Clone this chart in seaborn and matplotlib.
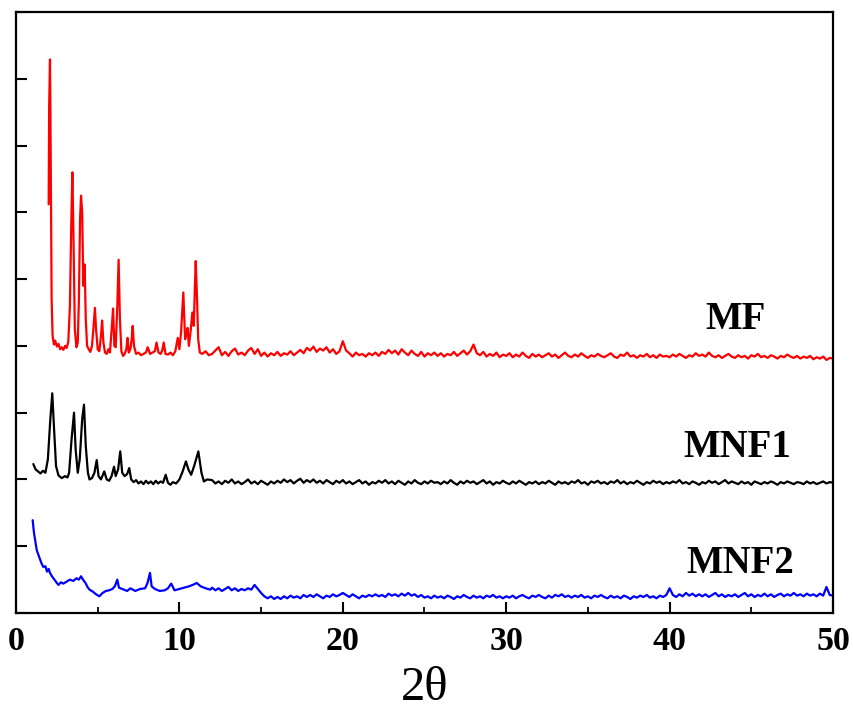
import numpy as np
import pandas as pd
import matplotlib
matplotlib.use("Agg")
import matplotlib.pyplot as plt
import seaborn as sns
from matplotlib.ticker import MultipleLocator

# ---------------- data ----------------
SERIES = ["MF", "MNF1", "MNF2"]
COLORS = {"MF": "#ff0000", "MNF1": "#000000", "MNF2": "#0000ff"}
X_TICKS = [0, 10, 20, 30, 40, 50]

# low-angle region, (2theta, intensity) pairs
MF_HEAD = [
    (2.00, 6.12), (2.03, 7.60), (2.08, 8.29), (2.11, 7.40), (2.14, 6.20), (2.18, 4.70),
    (2.24, 4.15), (2.32, 4.02), (2.40, 4.08), (2.50, 3.99), (2.60, 4.03), (2.70, 3.95),
    (2.80, 3.98), (2.90, 3.94), (3.00, 4.00), (3.10, 3.97), (3.20, 4.06), (3.30, 4.60),
    (3.38, 5.80), (3.45, 6.60), (3.52, 5.60), (3.60, 4.25), (3.70, 3.98), (3.78, 4.05),
    (3.85, 4.70), (3.92, 5.90), (3.98, 6.25), (4.05, 6.00), (4.12, 4.90), (4.20, 5.22),
    (4.27, 4.40), (4.35, 4.00), (4.45, 3.95), (4.55, 3.91), (4.65, 4.00), (4.75, 4.30),
    (4.83, 4.57), (4.90, 4.25), (5.00, 3.95), (5.10, 3.92), (5.20, 4.15), (5.27, 4.38),
    (5.35, 4.05), (5.45, 3.90), (5.55, 3.88), (5.65, 3.95), (5.75, 3.90), (5.87, 4.30),
    (5.94, 4.56), (6.02, 4.00), (6.10, 3.98), (6.20, 4.60), (6.28, 5.29), (6.36, 4.40),
    (6.45, 3.92), (6.55, 3.85), (6.65, 3.88), (6.75, 3.95), (6.83, 4.12), (6.90, 3.90),
    (7.00, 3.95), (7.08, 4.10), (7.14, 4.30), (7.22, 4.00), (7.35, 3.88), (7.50, 3.90),
    (7.65, 3.86), (7.80, 3.88), (7.95, 3.90), (8.06, 3.98), (8.20, 3.88), (8.35, 3.90),
    (8.50, 3.92), (8.60, 4.05), (8.72, 3.90), (8.85, 3.88), (8.95, 3.93), (9.04, 4.05),
    (9.15, 3.88), (9.30, 3.87), (9.45, 3.90), (9.60, 3.86), (9.75, 3.92), (9.90, 4.12),
    (10.00, 3.95), (10.10, 4.20), (10.24, 4.80), (10.35, 4.10), (10.45, 4.20), (10.50, 4.27),
    (10.58, 4.00), (10.70, 4.25), (10.79, 4.50), (10.88, 4.30), (10.95, 4.90), (11.00, 5.27),
    (11.08, 4.70), (11.15, 4.10), (11.25, 3.90), (11.40, 3.88), (11.60, 3.92), (11.80, 3.86),
]
MNF1_HEAD = [
    (1.06, 2.23), (1.20, 2.15), (1.35, 2.12), (1.50, 2.09), (1.65, 2.13), (1.80, 2.10),
    (1.95, 2.30), (2.10, 2.90), (2.22, 3.29), (2.32, 2.80), (2.45, 2.20), (2.60, 2.06),
    (2.80, 2.02), (3.00, 2.05), (3.15, 2.03), (3.25, 2.10), (3.40, 2.60), (3.55, 3.00),
    (3.65, 2.45), (3.78, 2.10), (3.90, 2.30), (4.05, 2.90), (4.16, 3.12), (4.27, 2.50),
    (4.40, 2.10), (4.50, 2.00), (4.65, 2.02), (4.80, 2.10), (4.94, 2.29), (5.05, 2.05),
    (5.20, 2.00), (5.40, 2.12), (5.55, 2.00), (5.70, 1.98), (5.85, 2.05), (6.00, 2.19),
    (6.10, 2.05), (6.25, 2.15), (6.38, 2.42), (6.50, 2.10), (6.65, 2.05), (6.80, 2.08),
    (6.93, 2.17), (7.05, 2.00), (7.20, 1.96), (7.35, 1.99), (7.50, 1.94), (7.65, 1.97),
    (7.80, 1.93), (7.95, 1.98), (8.10, 1.94), (8.25, 1.97), (8.40, 1.93), (8.55, 1.98),
    (8.70, 1.94), (8.85, 1.97), (9.00, 1.95), (9.16, 2.07), (9.30, 1.95), (9.45, 1.92),
    (9.60, 1.96), (9.80, 1.94), (10.00, 2.00), (10.20, 2.12), (10.40, 2.27), (10.55, 2.15),
    (10.72, 2.07), (10.90, 2.20), (11.16, 2.42), (11.35, 2.10), (11.50, 1.97), (11.70, 2.00),
]
MNF2_HEAD = [
    (1.02, 1.39), (1.10, 1.20), (1.20, 1.05), (1.27, 0.94), (1.40, 0.85), (1.55, 0.75),
    (1.67, 0.69), (1.80, 0.70), (1.90, 0.62), (2.00, 0.66), (2.08, 0.60), (2.20, 0.55),
    (2.35, 0.50), (2.50, 0.45), (2.60, 0.42), (2.75, 0.46), (2.90, 0.44), (3.10, 0.47),
    (3.30, 0.50), (3.50, 0.48), (3.70, 0.52), (3.85, 0.50), (3.98, 0.55), (4.10, 0.50),
    (4.25, 0.45), (4.40, 0.38), (4.50, 0.35), (4.70, 0.32), (4.90, 0.28), (5.10, 0.25),
    (5.30, 0.30), (5.50, 0.33), (5.70, 0.34), (5.90, 0.36), (6.05, 0.40), (6.20, 0.50),
    (6.30, 0.38), (6.50, 0.36), (6.80, 0.33), (7.00, 0.37), (7.30, 0.33), (7.60, 0.36),
    (7.90, 0.37), (8.05, 0.45), (8.20, 0.60), (8.30, 0.40), (8.50, 0.36), (8.80, 0.33),
    (9.10, 0.34), (9.30, 0.37), (9.50, 0.44), (9.70, 0.34), (10.00, 0.36), (10.30, 0.38),
    (10.60, 0.40), (10.90, 0.43), (11.06, 0.45), (11.30, 0.40), (11.60, 0.37), (11.90, 0.35),
]

# high-angle region, sampled every 0.2 degree from 12.0 to 50.0
TAIL_X = np.round(np.arange(12.0, 50.001, 0.2), 1)
MF_TAIL = [
    3.88, 3.93, 3.98, 3.86, 3.91, 3.85, 3.92, 3.96, 3.87, 3.90,
    3.86, 3.93, 3.97, 3.88, 3.95, 3.85, 3.90, 3.84, 3.89, 3.86,
    3.91, 3.85, 3.89, 3.87, 3.92, 3.86, 3.90, 3.94, 3.89, 3.97,
    3.93, 3.99, 3.91, 3.96, 3.93, 3.98, 3.90, 3.95, 3.88, 3.92,
    4.07, 3.93, 3.89, 3.84, 3.90, 3.86, 3.88, 3.84, 3.89, 3.86,
    3.90, 3.85, 3.91, 3.88, 3.94, 3.89, 3.93, 3.87, 3.95, 3.90,
    3.86, 3.93, 3.88, 3.85, 3.91, 3.84, 3.89, 3.86, 3.90, 3.85,
    3.89, 3.84, 3.88, 3.86, 3.91, 3.85, 3.89, 3.93, 3.87, 3.92,
    4.02, 3.89, 3.86, 3.91, 3.84, 3.88, 3.85, 3.90, 3.83, 3.87,
    3.85, 3.89, 3.83, 3.87, 3.84, 3.90, 3.85, 3.82, 3.88, 3.84,
    3.87, 3.83, 3.86, 3.89, 3.84, 3.87, 3.82, 3.86, 3.90, 3.85,
    3.83, 3.87, 3.84, 3.89, 3.85, 3.82, 3.86, 3.84, 3.88, 3.85,
    3.83, 3.86, 3.89, 3.84, 3.82, 3.87, 3.85, 3.90, 3.84, 3.86,
    3.82, 3.86, 3.84, 3.88, 3.83, 3.86, 3.82, 3.87, 3.84, 3.85,
    3.83, 3.87, 3.84, 3.88, 3.85, 3.82, 3.86, 3.84, 3.89, 3.85,
    3.87, 3.84, 3.90, 3.85, 3.83, 3.86, 3.82, 3.85, 3.88, 3.84,
    3.82, 3.86, 3.83, 3.85, 3.81, 3.86, 3.84, 3.88, 3.83, 3.85,
    3.82, 3.86, 3.84, 3.81, 3.85, 3.83, 3.87, 3.84, 3.82, 3.85,
    3.81, 3.84, 3.82, 3.85, 3.80, 3.83, 3.81, 3.84, 3.79, 3.82,
    3.81,
]
MNF1_TAIL = [
    1.99, 1.94, 1.97, 1.93, 1.98, 1.95, 2.00, 1.94, 1.97, 1.93,
    1.96, 2.00, 1.94, 1.97, 1.93, 1.98, 1.95, 1.92, 1.97, 1.94,
    1.98, 1.95, 2.00, 1.96, 1.99, 1.94, 1.98, 2.01, 1.95, 1.99,
    1.96, 2.00, 1.95, 1.98, 1.94, 1.99, 1.96, 1.93, 1.98, 1.95,
    1.99, 1.94, 1.97, 1.93, 1.96, 1.99, 1.94, 1.97, 1.92, 1.96,
    1.94, 1.98, 1.95, 1.99, 1.94, 1.97, 1.93, 1.98, 1.95, 1.92,
    1.97, 1.94, 1.99, 1.95, 1.93, 1.97, 1.94, 1.98, 1.95, 1.96,
    1.93, 1.97, 1.94, 1.99, 1.95, 1.92, 1.97, 1.94, 1.98, 1.95,
    1.97, 1.93, 1.96, 1.99, 1.94, 1.97, 1.92, 1.96, 1.94, 1.98,
    1.95, 1.93, 1.97, 1.94, 1.98, 1.95, 1.92, 1.96, 1.94, 1.97,
    1.93, 1.96, 1.94, 1.98, 1.95, 1.92, 1.97, 1.94, 1.96, 1.93,
    1.97, 1.95, 1.99, 1.94, 1.96, 1.92, 1.97, 1.95, 1.98, 1.94,
    1.96, 1.93, 1.97, 1.95, 1.99, 1.94, 1.97, 1.93, 1.96, 1.94,
    1.98, 1.95, 1.92, 1.96, 1.94, 1.98, 1.95, 1.97, 1.93, 1.96,
    1.94, 1.97, 1.95, 1.99, 1.94, 1.96, 1.93, 1.97, 1.95, 1.92,
    1.96, 1.94, 1.98, 1.95, 1.97, 1.93, 1.96, 1.99, 1.94, 1.97,
    1.95, 1.93, 1.97, 1.94, 1.96, 1.92, 1.97, 1.95, 1.93, 1.96,
    1.94, 1.97, 1.95, 1.92, 1.96, 1.94, 1.97, 1.95, 1.93, 1.96,
    1.95, 1.93, 1.97, 1.94, 1.96, 1.93, 1.95, 1.97, 1.94, 1.96,
    1.95,
]
MNF2_TAIL = [
    0.38, 0.34, 0.37, 0.33, 0.36, 0.39, 0.34, 0.37, 0.33, 0.36,
    0.34, 0.37, 0.35, 0.42, 0.36, 0.30, 0.25, 0.22, 0.25, 0.21,
    0.24, 0.21, 0.25, 0.22, 0.26, 0.23, 0.25, 0.22, 0.27, 0.24,
    0.27, 0.24, 0.28, 0.25, 0.22, 0.26, 0.24, 0.28, 0.25, 0.27,
    0.30, 0.27, 0.24, 0.28, 0.25, 0.22, 0.26, 0.24, 0.27, 0.25,
    0.28, 0.25, 0.27, 0.24, 0.29, 0.26, 0.28, 0.25, 0.29, 0.26,
    0.30, 0.26, 0.28, 0.24, 0.27, 0.23, 0.25, 0.22, 0.26, 0.23,
    0.25, 0.22, 0.26, 0.24, 0.21, 0.25, 0.23, 0.27, 0.24, 0.22,
    0.26, 0.23, 0.25, 0.22, 0.26, 0.24, 0.27, 0.23, 0.25, 0.22,
    0.25, 0.23, 0.26, 0.22, 0.25, 0.27, 0.24, 0.22, 0.26, 0.24,
    0.27, 0.24, 0.22, 0.26, 0.23, 0.27, 0.25, 0.28, 0.24, 0.26,
    0.23, 0.26, 0.24, 0.27, 0.23, 0.25, 0.22, 0.26, 0.24, 0.27,
    0.24, 0.22, 0.26, 0.23, 0.25, 0.22, 0.26, 0.24, 0.21, 0.25,
    0.23, 0.26, 0.24, 0.27, 0.23, 0.25, 0.22, 0.26, 0.24, 0.27,
    0.37, 0.27, 0.24, 0.28, 0.25, 0.30, 0.26, 0.29, 0.25, 0.28,
    0.25, 0.28, 0.24, 0.27, 0.30, 0.25, 0.28, 0.24, 0.27, 0.25,
    0.28, 0.24, 0.27, 0.30, 0.25, 0.28, 0.24, 0.27, 0.25, 0.29,
    0.25, 0.28, 0.24, 0.27, 0.29, 0.25, 0.28, 0.26, 0.30, 0.26,
    0.28, 0.25, 0.29, 0.26, 0.28, 0.25, 0.29, 0.26, 0.39, 0.27,
    0.26,
]

# label anchor (2theta, intensity baseline) for each pattern name
LABEL_POS = {"MF": (44.06, 4.25), "MNF1": (44.12, 2.34), "MNF2": (44.30, 0.60)}

# ---------------- build long table ----------------
frames = []
for name, head, tail in [("MF", MF_HEAD, MF_TAIL),
                         ("MNF1", MNF1_HEAD, MNF1_TAIL),
                         ("MNF2", MNF2_HEAD, MNF2_TAIL)]:
    assert len(tail) == len(TAIL_X), (name, len(tail), len(TAIL_X))
    hx = [p[0] for p in head]
    hy = [p[1] for p in head]
    frames.append(pd.DataFrame({
        "two_theta": list(hx) + list(TAIL_X),
        "intensity": list(hy) + list(tail),
        "sample": name,
    }))
df = pd.concat(frames, ignore_index=True)

# ---------------- style ----------------
sns.set_style("ticks")
plt.rcParams["font.family"] = ["Liberation Serif", "DejaVu Serif"]
plt.rcParams["axes.linewidth"] = 1.6
for key in ["text.color", "axes.labelcolor", "xtick.color", "ytick.color",
            "axes.edgecolor"]:
    plt.rcParams[key] = "black"

fig = plt.figure(figsize=(8.54, 7.15), dpi=100)
ax = fig.add_axes([16 / 854, 1 - 613 / 715, (833 - 16) / 854, (613 - 12) / 715])

sns.lineplot(data=df, x="two_theta", y="intensity", hue="sample",
             units="sample", estimator=None, sort=False,
             palette=COLORS, hue_order=SERIES, linewidth=1.6,
             legend=False, ax=ax)

ax.set_xlim(0, 50)
ax.set_ylim(0, 9)
ax.set_xticks(X_TICKS)
ax.xaxis.set_minor_locator(MultipleLocator(5))
ax.yaxis.set_major_locator(MultipleLocator(1))
ax.set_yticklabels([])
ax.tick_params(axis="both", which="major", direction="in", length=8, width=1.5,
               colors="black")
ax.tick_params(axis="x", which="minor", direction="in", length=4, width=1.3,
               colors="black")
ax.tick_params(axis="x", which="major", pad=9)
for lab in ax.get_xticklabels():
    lab.set_fontsize(24.5)
    lab.set_fontweight("bold")
    lab.set_color("black")
for s in ax.spines.values():
    s.set_visible(True)
    s.set_color("black")

ax.set_xlabel("2θ", fontsize=35, labelpad=7, color="black")
ax.set_ylabel("")

for name in SERIES:
    x, y = LABEL_POS[name]
    ax.text(x, y, name, fontsize=28, fontweight="bold", ha="center",
            va="baseline", color="black")

fig.savefig("out.png", dpi=100)
